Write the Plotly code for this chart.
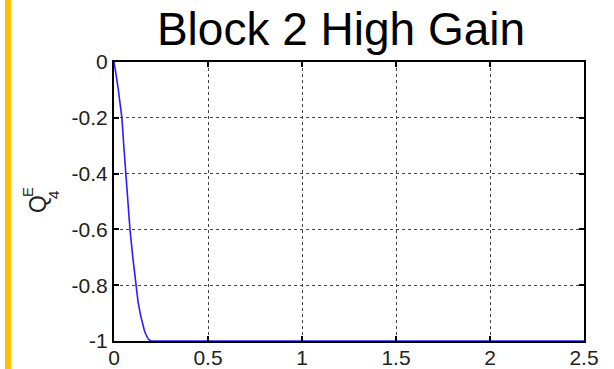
import plotly.graph_objects as go

t = [0, 0.006, 0.012, 0.023, 0.033, 0.042, 0.052, 0.062, 0.073, 0.085, 0.1, 0.115, 0.128, 0.142, 0.152, 0.162, 0.172, 0.182, 0.192, 0.2, 0.5, 1.0, 1.5, 2.0, 2.5]
q = [0, -0.02, -0.05, -0.1, -0.15, -0.2, -0.3, -0.4, -0.5, -0.6, -0.7, -0.8, -0.86, -0.91, -0.94, -0.963, -0.98, -0.992, -0.998, -1, -1, -1, -1, -1, -1]
x_ticks = [0, 0.5, 1, 1.5, 2, 2.5]
x_labels = ["0", "0.5", "1", "1.5", "2", "2.5"]
y_ticks = [0, -0.2, -0.4, -0.6, -0.8, -1]
y_labels = ["0", "-0.2", "-0.4", "-0.6", "-0.8", "-1"]
title = "Block 2 High Gain"

W, H = 614, 369
L, R, T, B = 114, 30, 62, 28
pw, ph = W - L - R, H - T - B

def px(xp):
    return (xp - L) / pw

def py(yp):
    return (H - B - yp) / ph

fig = go.Figure()
fig.add_trace(go.Scatter(x=t, y=q, mode="lines", line=dict(color="#2a1fff", width=1.6), showlegend=False))

font = "Liberation Sans, Arial, sans-serif"
axis_common = dict(
    showline=True, linecolor="black", linewidth=2, mirror="ticks",
    ticks="inside", ticklen=5, tickcolor="black", tickwidth=1.5,
    showgrid=True, gridcolor="#444", griddash="dot", gridwidth=1,
    zeroline=False, automargin=False, tickfont=dict(family=font, size=21, color="#222"),
)
fig.update_xaxes(range=[0, 2.5], tickvals=x_ticks, ticktext=x_labels, ticklabelstandoff=-3, **axis_common)
fig.update_yaxes(range=[-1, 0], tickvals=y_ticks, ticktext=y_labels, **axis_common)

fig.update_layout(
    width=W, height=H, margin=dict(l=L, r=R, t=T, b=B, autoexpand=False),
    plot_bgcolor="white", paper_bgcolor="white",
    title=dict(text=title, xref="container", x=341 / W, xanchor="center",
               yref="container", y=1 - 29 / H, yanchor="middle",
               font=dict(family=font, size=46, color="black")),
    shapes=[dict(type="rect", xref="paper", yref="paper", x0=px(5), x1=px(11),
                 y0=py(H + 2), y1=py(-2), fillcolor="#FFC000", line=dict(width=0), layer="above")],
    annotations=[
        dict(text="Q", xref="paper", yref="paper", x=px(38), y=py(204), showarrow=False,
             textangle=-90, font=dict(family=font, size=23, color="#222"), xanchor="center", yanchor="middle"),
        dict(text="E", xref="paper", yref="paper", x=px(27), y=py(192), showarrow=False,
             textangle=-90, font=dict(family=font, size=15, color="#222"), xanchor="center", yanchor="middle"),
        dict(text="4", xref="paper", yref="paper", x=px(54), y=py(195), showarrow=False,
             textangle=-90, font=dict(family=font, size=15, color="#222"), xanchor="center", yanchor="middle"),
    ],
)

fig.write_html("out.html", config={"displayModeBar": False},
               post_script="document.body.style.margin='0px';")
